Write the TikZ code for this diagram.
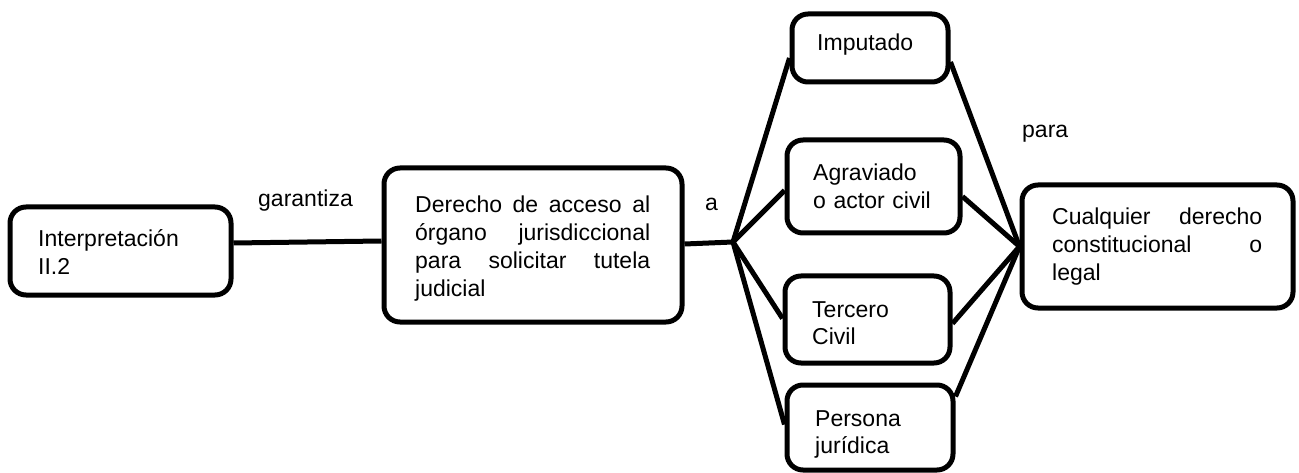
\documentclass[tikz,border=0pt]{standalone}
\usepackage{fontspec}
\setmainfont{Liberation Sans}
\newcommand{\jfill}{\hspace{0pt plus 1filll}}
\begin{document}
\begin{tikzpicture}[x=1pt,y=-1pt,
  box/.style={draw, line width=5pt, rounded corners=16pt, inner sep=0pt},
  link/.style={line width=5pt},
  txt/.style={inner sep=0pt, anchor=base west, align=left, font=\fontsize{23}{27.7}\selectfont}]
\useasboundingbox[fill=white] (0,0) rectangle (1299,473);
% boxes
\node[box, minimum width=221pt, minimum height=88pt]  (interp)    at (120.5,251)    {};
\node[box, minimum width=298pt, minimum height=154pt] (derecho)   at (533,245)    {};
\node[box, minimum width=156pt, minimum height=68pt]  (imputado)  at (870,48)     {};
\node[box, minimum width=173pt, minimum height=93pt]  (agraviado) at (873.5,186.5) {};
\node[box, minimum width=165pt, minimum height=87pt]  (tercero)   at (867.5,319.5) {};
\node[box, minimum width=166pt, minimum height=85pt]  (persona)   at (870,427.5)    {};
\node[box, minimum width=271pt, minimum height=123pt] (cualquier) at (1157.5,246.5) {};
\coordinate (hub) at (733,242);
% texts
\node[txt, text width=190pt] (tinterp) at (38,247) {Interpretación\\II.2};
\node[txt, text width=235pt] (tderecho) at (415,213)
  {Derecho\jfill de\jfill acceso\jfill al\\órgano\jfill jurisdiccional\\para\jfill solicitar\jfill tutela\\judicial};
\node[txt] (timputado) at (817,51) {Imputado};
\node[txt, text width=140pt] (tagraviado) at (813,181) {Agraviado\\o actor civil};
\node[txt, text width=140pt] (ttercero) at (812,317) {Tercero\\Civil};
\node[txt, text width=140pt] (tpersona) at (815,426) {Persona\\jurídica};
\node[txt, text width=210pt] (tcualquier) at (1052,225)
  {Cualquier\jfill derecho\\constitucional\jfill o\\legal};
% labels
\node[txt] (lgarantiza) at (258,207) {garantiza};
\node[txt] (la) at (705,211) {a};
\node[txt] (lpara) at (1022,138) {para};
% connectors
\draw[link] ([yshift=8pt]interp.east) -- ([yshift=4pt]derecho.west);
\draw[link] ([yshift=1pt]derecho.east) -- (hub);
\draw[link] (hub) -- ([yshift=-10pt]imputado.west);
\draw[link] (hub) -- ([yshift=-4pt]agraviado.west);
\draw[link] (hub) -- ([yshift=1pt]tercero.west);
\draw[link] (hub) -- ([yshift=3pt]persona.west);
\draw[link] ([yshift=-14pt]imputado.east) -- (cualquier.west);
\draw[link] ([yshift=-10pt]agraviado.east) -- (cualquier.west);
\draw[link] ([yshift=-4pt]tercero.east) -- (cualquier.west);
\draw[link] ([yshift=31pt]persona.east) -- (cualquier.west);
\end{tikzpicture}
\end{document}
